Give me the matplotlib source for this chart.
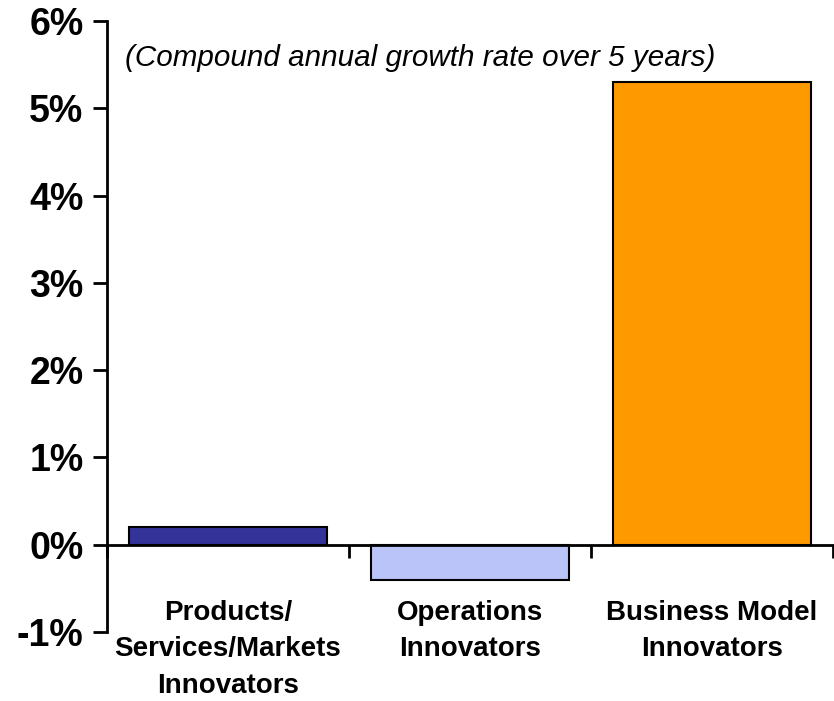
import matplotlib
matplotlib.use("Agg")
import matplotlib.pyplot as plt
from matplotlib.ticker import FuncFormatter, FixedLocator

categories = ["Products/\nServices/Markets\nInnovators", "Operations\nInnovators", "Business Model\nInnovators"]
values = [0.2, -0.4, 5.3]
colors = ["#333399", "#BBC4F9", "#FF9900"]
y_ticks = [-1, 0, 1, 2, 3, 4, 5, 6]
note = "(Compound annual growth rate over 5 years)"

plt.rcParams['font.family'] = ['Liberation Sans', 'DejaVu Sans']

fig = plt.figure(figsize=(8.34, 7.01), dpi=100)
ax = fig.add_axes([107/834, 1-632/701, (833-107)/834, (632-21)/701])

x = list(range(len(categories)))
ax.bar(x, values, width=0.82, color=colors, edgecolor="black", linewidth=1.5, zorder=2)

ax.set_xlim(-0.5, len(categories) - 0.5)
ax.set_ylim(-1, 6)

for s in ["top", "right"]:
    ax.spines[s].set_visible(False)
ax.spines["bottom"].set_position(("data", 0))
ax.spines["bottom"].set_linewidth(2)
ax.spines["bottom"].set_zorder(3)
ax.spines["left"].set_linewidth(2)

ax.yaxis.set_major_locator(FixedLocator(y_ticks))
ax.yaxis.set_major_formatter(FuncFormatter(lambda v, p: f"{v:.0f}%"))
ax.tick_params(axis="y", direction="out", length=10, width=2, labelsize=27, pad=7)
for lbl in ax.get_yticklabels():
    lbl.set_fontweight("bold")

ax.xaxis.set_major_locator(FixedLocator([i - 0.5 for i in range(len(categories) + 1)]))
ax.tick_params(axis="x", direction="out", length=9, width=2, labelbottom=False)

for i, c in enumerate(categories):
    ax.text(i, -0.63, c, ha="center", va="top", fontsize=20, fontweight="bold",
            linespacing=1.52)

ax.text(0.025, 0.94, note, transform=ax.transAxes, ha="left", va="center",
        fontsize=21.3, fontstyle="italic")

fig.savefig("out.png", dpi=100)
